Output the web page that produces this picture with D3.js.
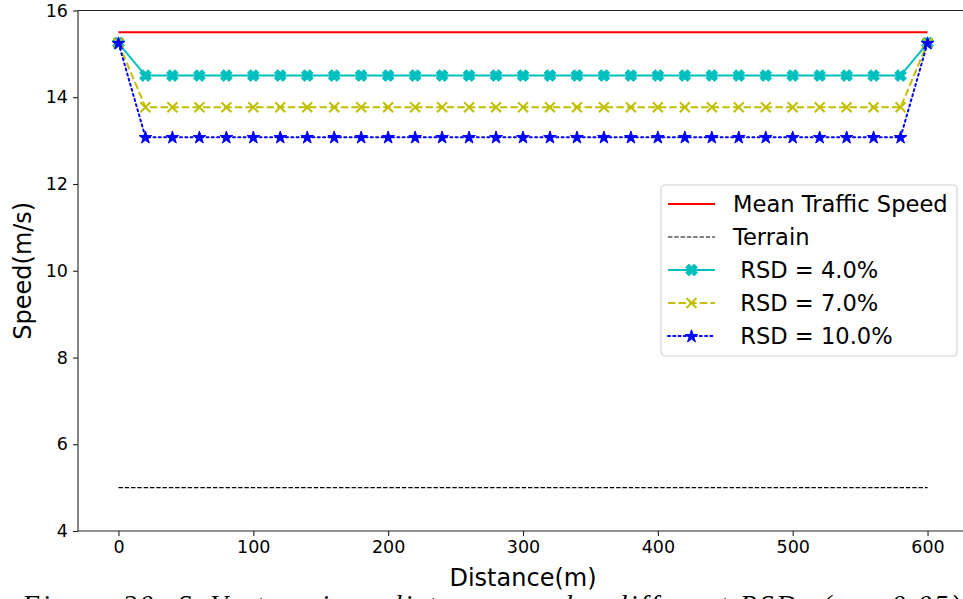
<!DOCTYPE html>
<html><head><meta charset="utf-8">
<script src="https://cdn.jsdelivr.net/npm/d3@7"></script>
<style>
html,body{margin:0;padding:0;background:#fff;overflow:hidden;}
svg{display:block;font-family:"DejaVu Sans",sans-serif;}
</style></head>
<body>
<svg id="chart" width="963" height="599"></svg>
<script>
// ---- data ----
const distances = [0,20,40,60,80,100,120,140,160,180,200,220,240,260,280,300,320,340,360,380,400,420,440,460,480,500,520,540,560,580,600];
const meanSpeed = [15.5,15.5,15.5,15.5,15.5,15.5,15.5,15.5,15.5,15.5,15.5,15.5,15.5,15.5,15.5,15.5,15.5,15.5,15.5,15.5,15.5,15.5,15.5,15.5,15.5,15.5,15.5,15.5,15.5,15.5,15.5];
const terrain = [5,5,5,5,5,5,5,5,5,5,5,5,5,5,5,5,5,5,5,5,5,5,5,5,5,5,5,5,5,5,5];
const rsd4 = [15.25,14.5,14.5,14.5,14.5,14.5,14.5,14.5,14.5,14.5,14.5,14.5,14.5,14.5,14.5,14.5,14.5,14.5,14.5,14.5,14.5,14.5,14.5,14.5,14.5,14.5,14.5,14.5,14.5,14.5,15.25];
const rsd7 = [15.25,13.77,13.77,13.77,13.77,13.77,13.77,13.77,13.77,13.77,13.77,13.77,13.77,13.77,13.77,13.77,13.77,13.77,13.77,13.77,13.77,13.77,13.77,13.77,13.77,13.77,13.77,13.77,13.77,13.77,15.25];
const rsd10 = [15.25,13.08,13.08,13.08,13.08,13.08,13.08,13.08,13.08,13.08,13.08,13.08,13.08,13.08,13.08,13.08,13.08,13.08,13.08,13.08,13.08,13.08,13.08,13.08,13.08,13.08,13.08,13.08,13.08,13.08,15.25];
const seriesLabels = ["Mean Traffic Speed","Terrain"," RSD = 4.0%"," RSD = 7.0%"," RSD = 10.0%"];
const xTicks = [0,100,200,300,400,500,600];
const yTicks = [4,6,8,10,12,14,16];
const xLabel = "Distance(m)";
const yLabel = "Speed(m/s)";
const caption = "Figure 20: SoV at various distances under different RSDs (\u03bc = 0.05)";

// ---- layout ----
const svg = d3.select("#chart");
const L = 78, R = 968, T = 10.5, B = 531;
const x = d3.scaleLinear().domain([-30,630]).range([L,R]);
const y = d3.scaleLinear().domain([4,16]).range([B,T]);

const series = [
  {vals: meanSpeed, color:"#ff0000", width:2, dash:null, marker:null},
  {vals: terrain, color:"#000000", width:1.2, dash:"4.4,1.9", marker:null},
  {vals: rsd4, color:"#00bfbf", width:2, dash:null, marker:"X"},
  {vals: rsd7, color:"#bfbf00", width:2, dash:"7.4,3.2", marker:"x"},
  {vals: rsd10, color:"#0000ff", width:2, dash:"2,3.3", marker:"star"}
];

const line = d3.line().x((d)=>x(d[0])).y((d)=>y(d[1]));

svg.append("defs").append("clipPath").attr("id","clip")
  .append("rect").attr("x",L).attr("y",T).attr("width",R-L).attr("height",B-T);

function xFilledPath(s){
  const w = s*0.38;
  const pts = [[-w,-s],[w,-s],[w,-w],[s,-w],[s,w],[w,w],[w,s],[-w,s],[-w,w],[-s,w],[-s,-w],[-w,-w]];
  const a = Math.PI/4;
  return "M" + pts.map(p=>[(p[0]*Math.cos(a)-p[1]*Math.sin(a)).toFixed(2),(p[0]*Math.sin(a)+p[1]*Math.cos(a)).toFixed(2)].join(",")).join("L") + "Z";
}
const starPath = d3.symbol().type(d3.symbolStar).size(50)();

function drawMarker(g, type, color, cx, cy){
  if(type==="X"){
    g.append("path").attr("d", xFilledPath(6)).attr("transform",`translate(${cx},${cy})`)
      .attr("fill",color).attr("stroke",color).attr("stroke-width",1);
  } else if(type==="x"){
    const s = 5;
    g.append("path").attr("d",`M${cx-s},${cy-s}L${cx+s},${cy+s}M${cx-s},${cy+s}L${cx+s},${cy-s}`)
      .attr("stroke",color).attr("stroke-width",2).attr("fill","none");
  } else if(type==="star"){
    g.append("path").attr("d", starPath).attr("transform",`translate(${cx},${cy+0.5})`)
      .attr("fill",color).attr("stroke",color).attr("stroke-width",1);
  }
}

const plot = svg.append("g").attr("clip-path","url(#clip)");
series.forEach(s=>{
  const pts = distances.map((d,i)=>[d, s.vals[i]]);
  plot.append("path").datum(pts).attr("d",line).attr("fill","none")
    .attr("stroke",s.color).attr("stroke-width",s.width)
    .attr("stroke-dasharray",s.dash).attr("stroke-linecap", s.dash==="2,3.3" ? "round":"butt");
  if(s.marker){
    const mg = plot.append("g");
    pts.forEach(p=>drawMarker(mg, s.marker, s.color, x(p[0]), y(p[1])));
  }
});

// ---- axes ----
const xAxis = svg.append("g").attr("transform",`translate(0,${B})`)
  .call(d3.axisBottom(x).tickValues(xTicks).tickSize(5).tickPadding(5).tickFormat(d3.format("d")));
const yAxis = svg.append("g").attr("transform",`translate(${L},0)`)
  .call(d3.axisLeft(y).tickValues(yTicks).tickSize(5).tickPadding(5).tickFormat(d3.format("d")));
[xAxis,yAxis].forEach(a=>{
  a.select(".domain").remove();
  a.selectAll("line").attr("stroke","#222").attr("stroke-width",1.1);
  a.selectAll("text").attr("font-family","DejaVu Sans").attr("font-size",17.5).attr("fill","#000");
});
// spines
svg.append("line").attr("x1",L).attr("x2",L).attr("y1",T).attr("y2",B).attr("stroke","#222").attr("stroke-width",1.1);
svg.append("line").attr("x1",L).attr("x2",R).attr("y1",B).attr("y2",B).attr("stroke","#222").attr("stroke-width",1.1);
svg.append("line").attr("x1",L).attr("x2",R).attr("y1",T).attr("y2",T).attr("stroke","#222").attr("stroke-width",1.1);
svg.append("line").attr("x1",R).attr("x2",R).attr("y1",T).attr("y2",B).attr("stroke","#222").attr("stroke-width",1.1);

svg.append("text").attr("x",(L+R)/2).attr("y",586).attr("text-anchor","middle")
  .attr("font-size",24).attr("fill","#000").text(xLabel);
svg.append("text").attr("transform",`translate(31,${(T+B)/2}) rotate(-90)`).attr("text-anchor","middle")
  .attr("font-size",24).attr("fill","#000").text(yLabel);

// ---- legend ----
const lg = svg.append("g");
lg.append("rect").attr("x",661).attr("y",185).attr("width",296).attr("height",171).attr("rx",4)
  .attr("fill","#fff").attr("fill-opacity",0.8).attr("stroke","#d0d0d0").attr("stroke-width",1.2);
const rowY = [204,237,270,303,336];
series.forEach((s,i)=>{
  const cy = rowY[i];
  lg.append("line").attr("x1",668).attr("x2",715).attr("y1",cy).attr("y2",cy)
    .attr("stroke",s.color).attr("stroke-width",s.width).attr("stroke-dasharray",s.dash)
    .attr("stroke-linecap", s.dash==="2,3.3" ? "round":"butt");
  if(s.marker) drawMarker(lg, s.marker, s.color, 691.5, cy);
  lg.append("text").attr("x",733).attr("y",cy+8).attr("font-size",22.6).attr("fill","#000")
    .attr("xml:space","preserve").style("white-space","pre").text(seriesLabels[i]);
});

// ---- caption (clipped at bottom, as in the reference) ----
svg.append("text").attr("x",22).attr("y",614).attr("font-family","Liberation Serif, serif")
  .attr("font-style","italic").attr("font-size",28).attr("fill","#000")
  .attr("textLength",938).attr("lengthAdjust","spacing").text(caption);
</script>
</body></html>
